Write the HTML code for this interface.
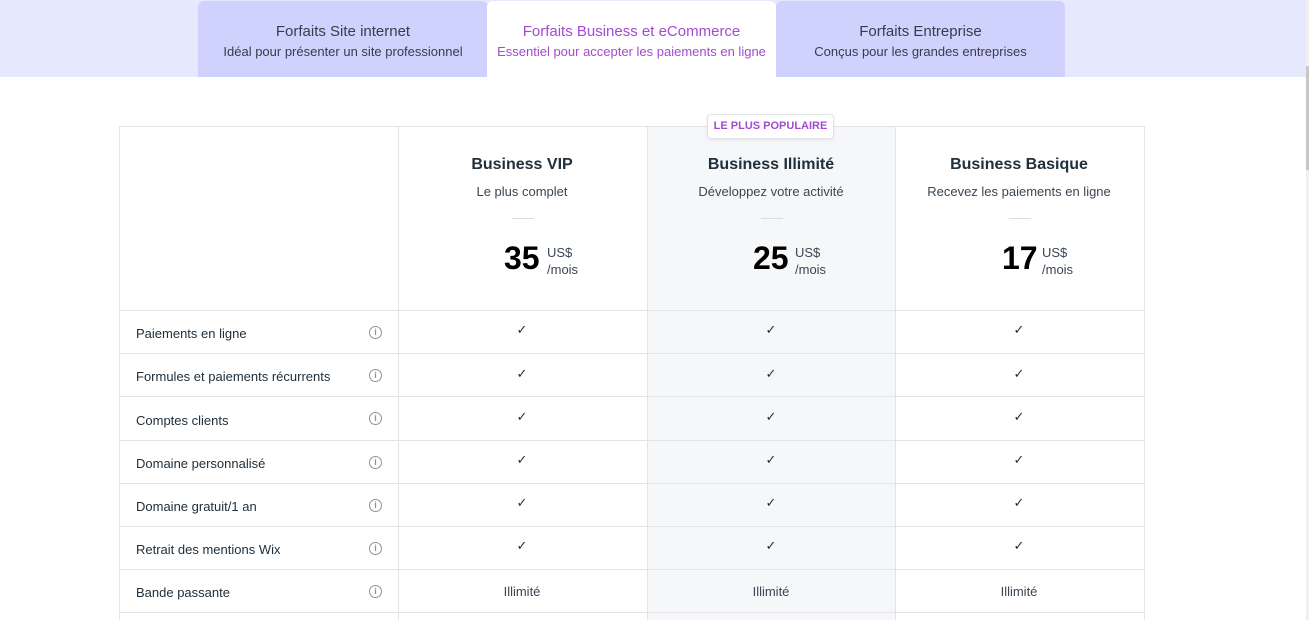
<!DOCTYPE html>
<html><head><meta charset="utf-8"><style>
*{margin:0;padding:0;box-sizing:border-box}
body{width:1309px;height:620px;overflow:hidden;background:#fff;font-family:"Liberation Sans",sans-serif;position:relative;color:#20303c}
.band{position:absolute;left:0;top:0;width:1306px;height:77px;background:#e6e8fe}
.sb{position:absolute;right:0;top:0;width:3px;height:620px;background:#f0f0f0}
.sb2{position:absolute;right:0;top:66px;width:3px;height:104px;background:#c8c8c8}
.tab{position:absolute;top:1px;height:76px;background:#cfd2fd;text-align:center;border-radius:6px 6px 0 0}
.tab .t{font-size:15px;margin-top:22px;color:#3b3b4a}
.tab .s{font-size:13px;margin-top:4px;color:#3b3b4a}
.tab.a{background:#fff}
.tab.a .t,.tab.a .s{color:#a34ad0}
.abs{position:absolute}
.hl{position:absolute;height:1px;background:#e2e4e8;left:119px;width:1026px}
.vl{position:absolute;width:1px;background:#e2e4e8;top:126px;height:494px}
.mid{position:absolute;left:647px;top:126px;width:248px;height:494px;background:#f6f7f9}
.pn{position:absolute;text-align:center;width:248px}
.name{font-size:16px;font-weight:bold;color:#20303c;top:156px}
.sub{font-size:13px;color:#3b4652;top:184px}
.dash{position:absolute;top:218px;width:22px;height:1px;background:#dcdcdc}
.price{position:absolute;top:240px;font-size:32px;font-weight:bold;color:#000}
.cur{position:absolute;font-size:13px;color:#3b4652;line-height:17px}
.lab{position:absolute;left:136px;font-size:13px;color:#20303c}
.info{position:absolute;left:369px;width:13px;height:13px;border:1px solid #8b949c;border-radius:50%;font-size:9px;line-height:11px;text-align:center;color:#8b949c;font-weight:bold}
.ck{position:absolute;font-size:13px;color:#20303c;width:248px;text-align:center}
.badge{position:absolute;left:707px;top:114px;width:127px;height:25px;background:#fff;border:1px solid #e2e4e8;border-radius:4px;font-size:11px;font-weight:bold;color:#a34ad0;text-align:center;line-height:23px;box-shadow:0 1px 3px rgba(0,0,0,.08)}
</style></head><body>
<div class="band"></div>
<div class="sb"></div><div class="sb2"></div>
<div class="tab" style="left:198px;width:290px"><div class="t">Forfaits Site internet</div><div class="s">Idéal pour présenter un site professionnel</div></div>
<div class="tab a" style="left:487px;width:289px"><div class="t">Forfaits Business et eCommerce</div><div class="s">Essentiel pour accepter les paiements en ligne</div></div>
<div class="tab" style="left:776px;width:289px"><div class="t">Forfaits Entreprise</div><div class="s">Conçus pour les grandes entreprises</div></div>

<div class="mid"></div>
<div class="hl" style="top:126px"></div>
<div class="hl" style="top:310px"></div>
<div class="hl" style="top:353px"></div>
<div class="hl" style="top:396px"></div>
<div class="hl" style="top:440px"></div>
<div class="hl" style="top:483px"></div>
<div class="hl" style="top:526px"></div>
<div class="hl" style="top:569px"></div>
<div class="hl" style="top:612px"></div>
<div class="vl" style="left:119px"></div>
<div class="vl" style="left:398px"></div>
<div class="vl" style="left:647px"></div>
<div class="vl" style="left:895px"></div>
<div class="vl" style="left:1144px"></div>
<div class="badge">LE PLUS POPULAIRE</div>

<div class="pn name" style="left:398px">Business VIP</div>
<div class="pn sub" style="left:398px">Le plus complet</div>
<div class="pn name" style="left:647px">Business Illimité</div>
<div class="pn sub" style="left:647px">Développez votre activité</div>
<div class="pn name" style="left:895px">Business Basique</div>
<div class="pn sub" style="left:895px">Recevez les paiements en ligne</div>
<div class="dash" style="left:512px"></div><div class="dash" style="left:761px"></div><div class="dash" style="left:1009px"></div>
<div class="price" style="left:504px">35</div><div class="cur" style="left:547px;top:244px">US$<br>/mois</div>
<div class="price" style="left:753px">25</div><div class="cur" style="left:795px;top:244px">US$<br>/mois</div>
<div class="price" style="left:1002px">17</div><div class="cur" style="left:1042px;top:244px">US$<br>/mois</div>

<div class="lab" style="top:326px">Paiements en ligne</div><div class="info" style="top:326px">i</div>
<div class="lab" style="top:369px">Formules et paiements récurrents</div><div class="info" style="top:369px">i</div>
<div class="lab" style="top:413px">Comptes clients</div><div class="info" style="top:412px">i</div>
<div class="lab" style="top:456px">Domaine personnalisé</div><div class="info" style="top:456px">i</div>
<div class="lab" style="top:499px">Domaine gratuit/1 an</div><div class="info" style="top:499px">i</div>
<div class="lab" style="top:542px">Retrait des mentions Wix</div><div class="info" style="top:542px">i</div>
<div class="lab" style="top:585px">Bande passante</div><div class="info" style="top:585px">i</div>

<div class="ck" style="left:398px;top:322px">✓</div><div class="ck" style="left:647px;top:322px">✓</div><div class="ck" style="left:895px;top:322px">✓</div>
<div class="ck" style="left:398px;top:366px">✓</div><div class="ck" style="left:647px;top:366px">✓</div><div class="ck" style="left:895px;top:366px">✓</div>
<div class="ck" style="left:398px;top:409px">✓</div><div class="ck" style="left:647px;top:409px">✓</div><div class="ck" style="left:895px;top:409px">✓</div>
<div class="ck" style="left:398px;top:452px">✓</div><div class="ck" style="left:647px;top:452px">✓</div><div class="ck" style="left:895px;top:452px">✓</div>
<div class="ck" style="left:398px;top:495px">✓</div><div class="ck" style="left:647px;top:495px">✓</div><div class="ck" style="left:895px;top:495px">✓</div>
<div class="ck" style="left:398px;top:538px">✓</div><div class="ck" style="left:647px;top:538px">✓</div><div class="ck" style="left:895px;top:538px">✓</div>
<div class="ck" style="left:398px;top:584px;color:#3b4652">Illimité</div><div class="ck" style="left:647px;top:584px;color:#3b4652">Illimité</div><div class="ck" style="left:895px;top:584px;color:#3b4652">Illimité</div>
</body></html>
